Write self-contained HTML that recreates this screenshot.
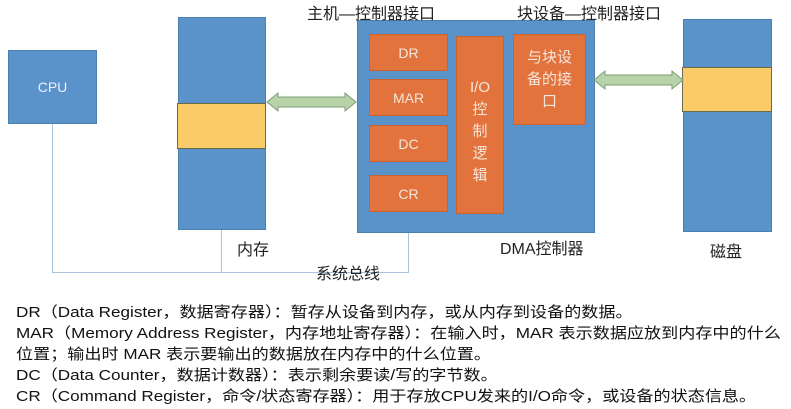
<!DOCTYPE html>
<html><head><meta charset="utf-8"><style>
body{margin:0;width:791px;height:409px;background:#fff;position:relative;overflow:hidden;font-family:"Liberation Sans","Noto Sans CJK SC",sans-serif;}
.a{position:absolute;box-sizing:border-box;}
.b{background:#5a93c9;border:1px solid #4a7fb0;}
.o{background:#e2733c;border:1px solid #c9622f;color:#f6e6dc;display:flex;align-items:center;justify-content:center;font-size:14px;}
.y{background:#f9cb69;border:1px solid #6b6b4a;}
.l{position:absolute;background:#a9c3dc;}
.t{position:absolute;font-size:16px;color:#222;white-space:nowrap;}
.p{position:absolute;left:16px;font-size:15px;color:#111;white-space:nowrap;line-height:20px;transform:scaleX(1.14);transform-origin:0 0;}
</style></head><body>
<div class="l" style="left:52px;top:123px;width:1px;height:150px"></div>
<div class="l" style="left:52px;top:272px;width:357px;height:1px"></div>
<div class="l" style="left:221px;top:229px;width:1px;height:44px"></div>
<div class="l" style="left:408px;top:232px;width:1px;height:41px"></div>
<div class="a b" style="left:8px;top:50px;width:89px;height:74px;color:#eef;display:flex;align-items:center;justify-content:center;font-size:14px">CPU</div>
<div class="a b" style="left:178px;top:17px;width:88px;height:213px"></div>
<div class="a y" style="left:177px;top:103px;width:89px;height:46px"></div>
<div class="a b" style="left:357px;top:20px;width:238px;height:213px"></div>
<div class="a o" style="left:369px;top:34px;width:79px;height:37px">DR</div>
<div class="a o" style="left:369px;top:79px;width:79px;height:37px">MAR</div>
<div class="a o" style="left:369px;top:125px;width:79px;height:37px">DC</div>
<div class="a o" style="left:369px;top:175px;width:79px;height:37px">CR</div>
<div class="a o" style="left:456px;top:36px;width:48px;height:178px;align-items:flex-start;padding-top:40px;text-align:center;line-height:22px;font-size:15px">I/O<br>控<br>制<br>逻<br>辑</div>
<div class="a o" style="left:513px;top:34px;width:73px;height:91px;align-items:flex-start;padding-top:12px;text-align:center;line-height:22px;font-size:15px">与块设<br>备的接<br>口</div>
<div class="a b" style="left:683px;top:19px;width:89px;height:213px"></div>
<div class="a y" style="left:682px;top:67px;width:90px;height:45px"></div>
<svg class="a" style="left:0;top:0" width="791" height="290">
<polygon points="267,102 278,93 278,97 345,97 345,93 356,102 345,111 345,107 278,107 278,111" fill="#b7d3a8" stroke="#7f9c76"/>
<polygon points="594,80 605,71 605,75 672,75 672,71 683,80 672,89 672,85 605,85 605,89" fill="#b7d3a8" stroke="#7f9c76"/>
</svg>
<div class="t" style="left:307px;top:0px">主机—控制器接口</div>
<div class="t" style="left:517px;top:0px">块设备—控制器接口</div>
<div class="t" style="left:237px;top:236px">内存</div>
<div class="t" style="left:316px;top:260px">系统总线</div>
<div class="t" style="left:500px;top:235px">DMA控制器</div>
<div class="t" style="left:710px;top:238px">磁盘</div>
<div class="p" style="top:303px">DR（Data Register，数据寄存器）：暂存从设备到内存，或从内存到设备的数据。</div>
<div class="p" style="top:324px">MAR（Memory Address Register，内存地址寄存器）：在输入时，MAR 表示数据应放到内存中的什么</div>
<div class="p" style="top:345px">位置；输出时 MAR 表示要输出的数据放在内存中的什么位置。</div>
<div class="p" style="top:366px">DC（Data Counter，数据计数器）：表示剩余要读/写的字节数。</div>
<div class="p" style="top:387px">CR（Command Register，命令/状态寄存器）：用于存放CPU发来的I/O命令，或设备的状态信息。</div>
</body></html>
